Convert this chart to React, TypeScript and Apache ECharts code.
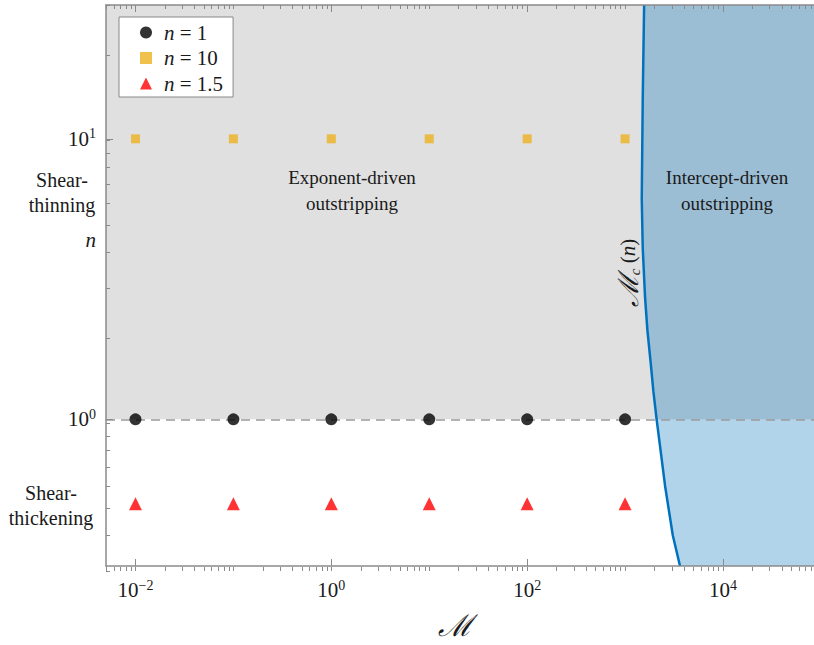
import React, { useEffect, useRef } from "react";
import * as echarts from "echarts";

// ---- data ----
const X_MIN = 0.005;
const X_MAX = 85000;
const Y_MIN = 0.3;
const Y_MAX = 30;

const X_MAJOR = [0.01, 1, 100, 10000];
const X_TICK_EXP = ["−2", "0", "2", "4"];
const Y_MAJOR = [1, 10];
const Y_TICK_EXP = ["0", "1"];

const M_POINTS = [0.01, 0.1, 1, 10, 100, 1000];
const N_SERIES_1 = [1, 1, 1, 1, 1, 1];
const N_SERIES_10 = [10, 10, 10, 10, 10, 10];
const N_SERIES_15 = [0.5, 0.5, 0.5, 0.5, 0.5, 0.5];
const SERIES_NAMES = ["n = 1", "n = 10", "n = 1.5"];

// critical curve M_c(n), from bottom (n small) to top
const MC_N = [0.3, 0.386, 0.58, 1.0, 1.26, 1.58, 2.08, 2.72, 4.08, 6.13, 13.8, 30];
const MC_M = [3640, 3070, 2560, 2100, 1945, 1830, 1690, 1600, 1515, 1480, 1515, 1565];

const SERIF = "Liberation Serif";
const SCRIPT = "DejaVu Serif";
const TXT = "#1a1a1a";
const AXIS_COLOR = "#8a8a8a";

const L = Math.log10;

function minorTicks(lo: number, hi: number): number[] {
  const out: number[] = [];
  for (let d = -4; d <= 6; d++) {
    for (let k = 1; k <= 9; k++) {
      const v = k * Math.pow(10, d);
      if (v >= lo * 0.9999 && v <= hi * 1.0001) out.push(v);
    }
  }
  return out;
}

export default function App() {
  const ref = useRef<HTMLDivElement>(null);
  useEffect(() => {
    if (!ref.current) return;
    const chart = echarts.init(ref.current, null, { renderer: "svg" });
    const xMinL = L(X_MIN), xMaxL = L(X_MAX), yMinL = L(Y_MIN), yMaxL = L(Y_MAX);
    const xMinor = minorTicks(X_MIN, X_MAX).map(L);
    const yMinor = minorTicks(Y_MIN, Y_MAX).map(L);

    const supRich = {
      b: { fontSize: 21, fontFamily: SERIF, color: TXT, lineHeight: 24 },
      s: { fontSize: 14, fontFamily: SERIF, color: TXT, verticalAlign: "top", lineHeight: 14 },
    };
    const gridPos = { left: 106, top: 5, right: 0, bottom: 74 };
    const axisLine = { show: true, onZero: false, lineStyle: { color: AXIS_COLOR, width: 1.5 } };
    const noLine = { show: false, onZero: false };

    const pts = (ys: number[]) => M_POINTS.map((m, i) => [L(m), L(ys[i])]);

    const option: any = {
      animation: false,
      textStyle: { fontFamily: SERIF },
      grid: [{ ...gridPos }, { ...gridPos }],
      xAxis: [
        {
          type: "value", gridIndex: 0, position: "bottom", min: xMinL, max: xMaxL, z: 10,
          axisLine, splitLine: { show: false },
          axisTick: { show: true, inside: true, length: 7, customValues: X_MAJOR.map(L), lineStyle: { color: AXIS_COLOR } },
          axisLabel: {
            show: true, margin: 12, customValues: X_MAJOR.map(L), fontFamily: SERIF, fontSize: 21, color: TXT,
            formatter: (v: number) => {
              const i = X_MAJOR.findIndex((x) => Math.abs(L(x) - v) < 1e-6);
              return i < 0 ? "" : `{b|10}{s|${X_TICK_EXP[i]}}`;
            },
            rich: supRich,
          },
          name: "ℳ", nameLocation: "middle", nameGap: 44,
          nameTextStyle: { fontFamily: SCRIPT, fontStyle: "italic", fontSize: 30, color: TXT, padding: [0, 10, 0, 0] },
        },
        {
          type: "value", gridIndex: 0, position: "top", min: xMinL, max: xMaxL, z: 10,
          axisLine, splitLine: { show: false },
          axisTick: { show: true, inside: true, length: 7, customValues: X_MAJOR.map(L), lineStyle: { color: AXIS_COLOR } },
          axisLabel: { show: false },
        },
        {
          type: "value", gridIndex: 1, position: "bottom", min: xMinL, max: xMaxL, z: 10,
          axisLine: noLine, splitLine: { show: false },
          axisTick: { show: true, inside: true, length: 4, customValues: xMinor, lineStyle: { color: AXIS_COLOR } },
          axisLabel: { show: false },
        },
        {
          type: "value", gridIndex: 1, position: "top", min: xMinL, max: xMaxL, z: 10,
          axisLine: noLine, splitLine: { show: false },
          axisTick: { show: true, inside: true, length: 4, customValues: xMinor, lineStyle: { color: AXIS_COLOR } },
          axisLabel: { show: false },
        },
      ],
      yAxis: [
        {
          type: "value", gridIndex: 0, position: "left", min: yMinL, max: yMaxL, z: 10,
          axisLine, splitLine: { show: false },
          axisTick: { show: true, inside: true, length: 7, customValues: Y_MAJOR.map(L), lineStyle: { color: AXIS_COLOR } },
          axisLabel: {
            show: true, margin: 10, customValues: Y_MAJOR.map(L), fontFamily: SERIF, fontSize: 21, color: TXT,
            formatter: (v: number) => {
              const i = Y_MAJOR.findIndex((x) => Math.abs(L(x) - v) < 1e-6);
              return i < 0 ? "" : `{b|10}{s|${Y_TICK_EXP[i]}}`;
            },
            rich: supRich,
          },
        },
        {
          type: "value", gridIndex: 1, position: "left", min: yMinL, max: yMaxL, z: 10,
          axisLine: noLine, splitLine: { show: false },
          axisTick: { show: true, inside: true, length: 4, customValues: yMinor, lineStyle: { color: AXIS_COLOR } },
          axisLabel: { show: false },
        },
      ],
      legend: {
        left: 119, top: 17, orient: "vertical",
        backgroundColor: "#ffffff", borderColor: "#888888", borderWidth: 1, borderRadius: 0,
        padding: [5, 10, 3, 21], itemGap: 4.5, itemWidth: 12, itemHeight: 12,
        data: [
          { name: SERIES_NAMES[0], icon: "circle" },
          { name: SERIES_NAMES[1], icon: "rect" },
          { name: SERIES_NAMES[2], icon: "triangle" },
        ],
        formatter: (name: string) => "{i|n}{t|" + name.slice(1) + "}",
        textStyle: {
          fontFamily: SERIF, fontSize: 21, color: TXT, lineHeight: 20,
          rich: {
            i: { fontFamily: SERIF, fontSize: 21, fontStyle: "italic", color: TXT, padding: [0, 0, 0, 7] },
            t: { fontFamily: SERIF, fontSize: 21, color: TXT },
          },
        },
      },
      series: [
        {
          type: "line", xAxisIndex: 0, yAxisIndex: 0, data: [], z: 1, silent: true,
          markArea: {
            silent: true,
            itemStyle: { color: "#e0e0e0" },
            data: [[{ yAxis: 0 }, { yAxis: yMaxL }]],
          },
        },
        {
          type: "custom", xAxisIndex: 0, yAxisIndex: 0, z: 2, silent: true, clip: true,
          data: [[xMinL, yMinL]],
          renderItem: (_p: any, api: any) => {
            const poly = MC_M.map((m, i) => api.coord([L(m), L(MC_N[i])]));
            poly.push(api.coord([xMaxL, yMaxL]), api.coord([xMaxL, yMinL]));
            return { type: "polygon", shape: { points: poly }, style: { fill: "rgba(0,114,189,0.3)" } };
          },
        },
        {
          type: "line", xAxisIndex: 0, yAxisIndex: 0, z: 3, silent: true, showSymbol: false,
          data: MC_M.map((m, i) => [L(m), L(MC_N[i])]),
          lineStyle: { color: "#0072bd", width: 2.5 },
        },
        {
          type: "line", xAxisIndex: 0, yAxisIndex: 0, data: [], z: 4, silent: true,
          markLine: {
            silent: true, symbol: ["none", "none"], label: { show: false },
            lineStyle: { color: "#9a9a9a", width: 1.5, type: [9, 6] },
            data: [{ yAxis: 0 }],
          },
        },
        {
          name: SERIES_NAMES[0], type: "scatter", xAxisIndex: 0, yAxisIndex: 0, z: 5,
          symbol: "circle", symbolSize: 12, itemStyle: { color: "#000000" },
          data: pts(N_SERIES_1),
        },
        {
          name: SERIES_NAMES[1], type: "scatter", xAxisIndex: 0, yAxisIndex: 0, z: 5,
          symbol: "rect", symbolSize: 9, itemStyle: { color: "#EDB120" },
          data: pts(N_SERIES_10),
        },
        {
          name: SERIES_NAMES[2], type: "scatter", xAxisIndex: 0, yAxisIndex: 0, z: 5,
          symbol: "triangle", symbolSize: 13, itemStyle: { color: "#ff0000" },
          data: pts(N_SERIES_15),
        },
      ],
      graphic: [
        {
          type: "text", x: 352, y: 190, z: 20,
          style: { text: "Exponent-driven\noutstripping", align: "center", verticalAlign: "middle",
            fontFamily: SERIF, fontSize: 19, lineHeight: 26, fill: TXT },
        },
        {
          type: "text", x: 727, y: 190, z: 20,
          style: { text: "Intercept-driven\noutstripping", align: "center", verticalAlign: "middle",
            fontFamily: SERIF, fontSize: 19, lineHeight: 26, fill: TXT },
        },
        {
          type: "text", x: 62, y: 192, z: 20,
          style: { text: "Shear-\nthinning", align: "center", verticalAlign: "middle",
            fontFamily: SERIF, fontSize: 20, lineHeight: 25, fill: TXT },
        },
        {
          type: "text", x: 96, y: 240, z: 20,
          style: { text: "n", align: "right", verticalAlign: "middle",
            fontFamily: SERIF, fontSize: 21, fontStyle: "italic", fill: TXT },
        },
        {
          type: "text", x: 51, y: 505, z: 20,
          style: { text: "Shear-\nthickening", align: "center", verticalAlign: "middle",
            fontFamily: SERIF, fontSize: 20, lineHeight: 25, fill: TXT },
        },
        {
          type: "text", x: 628, y: 273, z: 20, rotation: Math.PI / 2,
          style: {
            text: "{m|ℳ}{c|c}{p| (}{i|n}{p|)}", align: "center", verticalAlign: "middle",
            rich: {
              m: { fontFamily: SCRIPT, fontStyle: "italic", fontSize: 28, fill: TXT, lineHeight: 28 },
              c: { fontFamily: SERIF, fontStyle: "italic", fontSize: 15, fill: TXT, verticalAlign: "bottom", lineHeight: 16 },
              p: { fontFamily: SERIF, fontSize: 21, fill: TXT },
              i: { fontFamily: SERIF, fontStyle: "italic", fontSize: 21, fill: TXT },
            },
          },
        },
      ],
    };
    chart.setOption(option);
    return () => chart.dispose();
  }, []);
  return (
    <div
      ref={ref}
      style={{ position: "fixed", left: 0, top: 0, width: 814, height: 645, background: "#ffffff" }}
    />
  );
}
